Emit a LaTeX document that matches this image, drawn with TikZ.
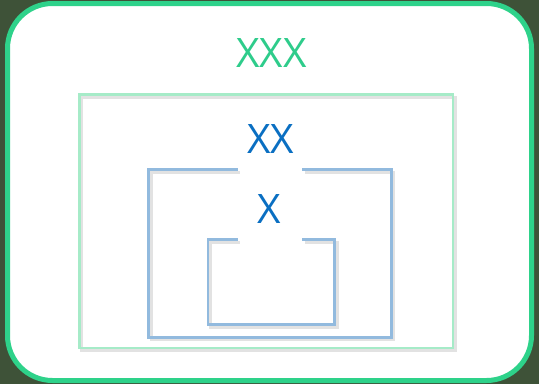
\documentclass[tikz,border=0pt]{standalone}
\usepackage{fontspec}
\setmainfont{Open Sans}
\definecolor{bgdark}{HTML}{3E5238}
\definecolor{outergreen}{HTML}{2ED28A}
\definecolor{textgreen}{HTML}{2ECC8B}
\definecolor{lightgreen}{HTML}{A6EBC8}
\definecolor{boxblue}{HTML}{92BADE}
\definecolor{textblue}{HTML}{0A6FC2}
\definecolor{shadowgray}{HTML}{B8B8B8}
\begin{document}
\begin{tikzpicture}[x=1pt,y=-1pt,
  outerframe/.style={draw=outergreen,line width=5pt,fill=white,rounded corners=45pt},
  greenbox/.style={draw=lightgreen,line width=2.5pt},
  bluebox/.style={draw=boxblue,line width=2.5pt},
  boxshadow/.style={draw=shadowgray,line width=3pt,opacity=0.4},
  label/.style={inner sep=0pt,anchor=base,font=\fontsize{40.6}{44}\selectfont}]
\useasboundingbox (0,0) rectangle (539,384);
\fill[bgdark] (0,0) rectangle (539,384);
\draw[outerframe] (7.5,3.5) rectangle (531.5,380.5);
% shadows
\draw[boxshadow] (81.5,97) -- (455.5,97) -- (455.5,350.5) -- (81.5,350.5) -- cycle;
\draw[boxshadow] (304.8,172.2) -- (393.8,172.2) -- (393.8,339.8) -- (151,339.8) -- (151,172.2) -- (240.2,172.2);
\draw[boxshadow] (304.8,242.2) -- (337.2,242.2) -- (337.2,327.2) -- (210.5,327.2) -- (210.5,242.2) -- (240.2,242.2);
% boxes
\draw[greenbox] (79.5,94.5) rectangle (453,348);
\draw[bluebox] (237.7,169.7) -- (148.5,169.7) -- (148.5,337.3) -- (391.3,337.3) -- (391.3,169.7) -- (302.3,169.7);
\draw[bluebox] (237.7,239.7) -- (208,239.7) -- (208,324.7) -- (334.7,324.7) -- (334.7,239.7) -- (302.3,239.7);
% labels
\node[label,text=textgreen] (l3) at (271.5,67) {XXX};
\node[label,text=textblue] (l2) at (270.5,153) {XX};
\node[label,text=textblue] (l1) at (269.5,223) {X};
\end{tikzpicture}
\end{document}
